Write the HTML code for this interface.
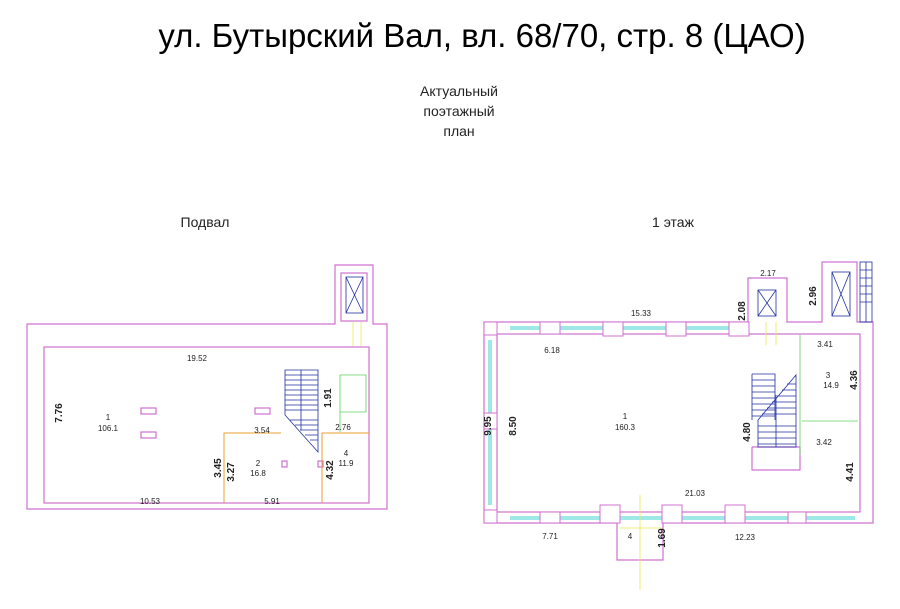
<!DOCTYPE html>
<html><head><meta charset="utf-8"><style>
body{margin:0;background:#fff;width:900px;height:604px;overflow:hidden;font-family:"Liberation Sans",sans-serif}
</style></head><body>
<svg width="900" height="604" viewBox="0 0 900 604" xmlns="http://www.w3.org/2000/svg" font-family="Liberation Sans, sans-serif">
<text x="482" y="47" font-size="33" text-anchor="middle" fill="#000">ул. Бутырский Вал, вл. 68/70, стр. 8 (ЦАО)</text>
<g font-size="14" text-anchor="middle" fill="#222">
<text x="459" y="96">Актуальный</text><text x="459" y="116">поэтажный</text><text x="459" y="136">план</text>
<text x="205" y="227">Подвал</text><text x="673" y="227">1 этаж</text></g>
<g fill="none" stroke="#d070d0" stroke-width="1.2">
<path d="M27 324H335V265H373V324H387V509H27Z"/>
<rect x="44" y="347" width="325" height="156"/>
<rect x="341" y="273" width="26" height="48"/>
<rect x="141" y="408" width="15" height="6"/><rect x="141" y="432" width="15" height="6"/>
<rect x="255" y="408" width="15" height="6"/><rect x="282" y="461" width="5" height="6"/><rect x="318" y="461" width="5" height="6"/>
<path d="M484 322H748V278H787V322H822V262H857V322H873V523H663V560H617V523H484Z"/>
<rect x="497" y="334" width="363" height="178"/>
<path d="M752 447H800M752 447V470H800V447"/>
</g>
<g fill="none" stroke="#e8a030" stroke-width="1"><path d="M224 503V433H281M322 503V433H369"/></g>
<g fill="none" stroke="#60d060" stroke-width="0.8"><path d="M800 335V455M802 421H858M340 375H366V412H340ZM340 412V432"/></g>
<g stroke="#2030a0" stroke-width="0.8" fill="none">
<rect x="346" y="277" width="17" height="36"/><path d="M346 277L363 313M363 277L346 313"/>
<path d="M285 370H318V452L285 415ZM301 370V430M285 375H318M285 380H318M285 385H318M285 390H318M285 395H318M285 400H318M285 405H318M285 410H318M290 420H318M295 425H318M300 430H318M305 435H318M310 440H318"/>
<rect x="758" y="290" width="18" height="26"/><path d="M758 290L776 316M776 290L758 316"/>
<rect x="832" y="272" width="18" height="44"/><path d="M832 272L850 316M850 272L832 316"/>
<rect x="860" y="262" width="12" height="60"/><path d="M860 270H872M860 278H872M860 286H872M860 294H872M860 302H872M866 262V322"/>
<path d="M752 374H775V420M752 374V420M752 380H775M752 386H775M752 392H775M752 398H775M752 404H775M752 410H775M752 416H775"/>
<path d="M758 420L796 375V447H758ZM758 426H796M758 432H796M758 438H796M758 444H796M762 414H796M767 408H796M772 402H796M777 396H796M782 390H796M787 384H796M776 395V447"/>
</g>
<g stroke="#9fe8e8" stroke-width="4"><path d="M510 328H745M510 518H855M490 340V505"/></g>
<g stroke="#e8e850" stroke-width="0.8"><path d="M640 495V590M620 528H662M353 322V346M361 322V346M766 322V345M776 322V345"/></g>
<g fill="#fff" stroke="#d070d0" stroke-width="1">
<rect x="540" y="322" width="20" height="12"/><rect x="603" y="322" width="20" height="14"/><rect x="666" y="322" width="20" height="14"/><rect x="729" y="322" width="20" height="14"/>
<rect x="540" y="512" width="20" height="11"/><rect x="600" y="505" width="20" height="18"/><rect x="662" y="505" width="20" height="18"/><rect x="725" y="505" width="20" height="18"/><rect x="788" y="512" width="18" height="11"/>
<rect x="484" y="322" width="13" height="13"/><rect x="484" y="510" width="13" height="13"/><rect x="484" y="413" width="13" height="16"/>
</g>
<g font-size="8" fill="#222" text-anchor="middle">
<text x="197" y="361">19.52</text><text x="150" y="504">10.53</text><text x="272" y="504">5.91</text>
<text x="262" y="433">3.54</text><text x="343" y="430">2.76</text><text x="108" y="420">1</text><text x="108" y="431">106.1</text>
<text x="258" y="466">2</text><text x="258" y="476">16.8</text><text x="346" y="456">4</text><text x="346" y="466">11.9</text>
<text x="641" y="316">15.33</text><text x="552" y="353">6.18</text><text x="768" y="276">2.17</text><text x="825" y="347">3.41</text>
<text x="828" y="378">3</text><text x="831" y="388">14.9</text><text x="824" y="445">3.42</text><text x="625" y="419">1</text><text x="625" y="430">160.3</text>
<text x="695" y="496">21.03</text><text x="550" y="539">7.71</text><text x="745" y="540">12.23</text><text x="630" y="539">4</text>
</g>
<g font-size="10" font-weight="bold" fill="#222" text-anchor="middle">
<text transform="translate(62,413) rotate(-90)">7.76</text>
<text transform="translate(221,468) rotate(-90)">3.45</text><text transform="translate(234,472) rotate(-90)">3.27</text>
<text transform="translate(333,470) rotate(-90)">4.32</text><text transform="translate(331,398) rotate(-90)">1.91</text>
<text transform="translate(491,426) rotate(-90)">9.95</text><text transform="translate(516,426) rotate(-90)">8.50</text>
<text transform="translate(745,311) rotate(-90)">2.08</text><text transform="translate(816,296) rotate(-90)">2.96</text>
<text transform="translate(857,380) rotate(-90)">4.36</text>
<text transform="translate(750,432) rotate(-90)">4.80</text><text transform="translate(853,472) rotate(-90)">4.41</text>
<text transform="translate(665,538) rotate(-90)">1.69</text>
</g>
</svg>
</body></html>
